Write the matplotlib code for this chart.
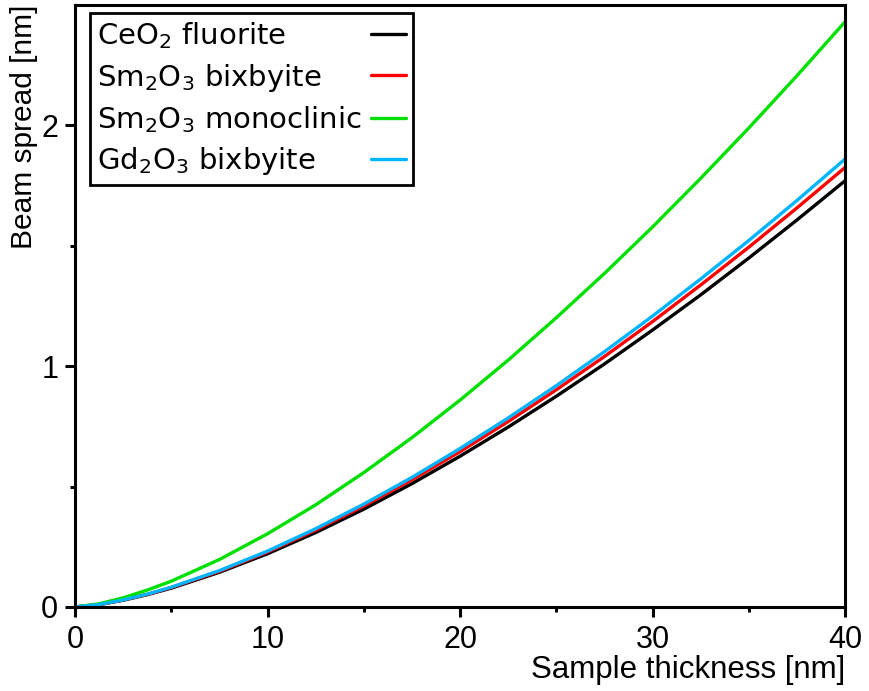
import numpy as np
import matplotlib
matplotlib.use('Agg')
import matplotlib.pyplot as plt

# sample thickness [nm]
thickness = [0, 1.25, 2.5, 3.75, 5, 7.5, 10, 12.5, 15, 17.5, 20, 22.5, 25, 27.5, 30, 32.5, 35, 37.5, 40]

# beam spread [nm]
ceo2_fluorite = [0, 0.010, 0.028, 0.051, 0.078, 0.144, 0.221, 0.309, 0.406, 0.512, 0.626, 0.747, 0.875, 1.009, 1.150, 1.296, 1.449, 1.607, 1.770]
sm2o3_bixbyite = [0, 0.010, 0.029, 0.052, 0.081, 0.148, 0.228, 0.319, 0.419, 0.528, 0.645, 0.770, 0.902, 1.040, 1.185, 1.337, 1.494, 1.657, 1.825]
sm2o3_monoclinic = [0, 0.013, 0.038, 0.070, 0.107, 0.197, 0.304, 0.424, 0.558, 0.703, 0.859, 1.025, 1.201, 1.385, 1.578, 1.780, 1.989, 2.206, 2.430]
gd2o3_bixbyite = [0, 0.010, 0.029, 0.053, 0.082, 0.151, 0.232, 0.325, 0.427, 0.538, 0.658, 0.785, 0.919, 1.060, 1.208, 1.362, 1.522, 1.688, 1.860]

labels = [r'CeO$_2$ fluorite', r'Sm$_2$O$_3$ bixbyite', r'Sm$_2$O$_3$ monoclinic', r'Gd$_2$O$_3$ bixbyite']
colors = ['#000000', '#ff0000', '#00e000', '#00b4ff']

plt.rcParams['mathtext.default'] = 'regular'
arial = ['Liberation Sans', 'DejaVu Sans']

fig = plt.figure(figsize=(8.7, 6.91), dpi=100)
ax = fig.add_axes([0.0862, 0.1216, 0.8851, 0.8712])

series = [ceo2_fluorite, sm2o3_bixbyite, sm2o3_monoclinic, gd2o3_bixbyite]
for ys, lab, col in zip(series, labels, colors):
	ax.plot(thickness, ys, color=col, lw=2.4, label=lab, solid_capstyle='round')

ax.set_xlim(0, 40)
ax.set_ylim(0, 2.5)
ax.set_xticks([0, 10, 20, 30, 40])
ax.set_xticks([5, 15, 25, 35], minor=True)
ax.set_yticks([0, 1, 2])
ax.set_yticks([0.5, 1.5], minor=True)

for s in ax.spines.values():
	s.set_linewidth(2.2)
ax.tick_params(which='major', length=7, width=2.2, direction='out', labelsize=22, pad=5)
ax.tick_params(axis='x', which='major', pad=6)
ax.tick_params(which='minor', length=3.5, width=2.2, direction='out')
for t in ax.get_xticklabels() + ax.get_yticklabels():
	t.set_family(arial)

ax.set_xlabel('Sample thickness [nm]', loc='right', fontsize=22.5, family=arial, labelpad=0)
ax.set_ylabel('Beam spread [nm]', loc='top', fontsize=21.5, family=arial, labelpad=2)

leg = ax.legend(loc='upper left', bbox_to_anchor=(0.0195, 0.9867), borderaxespad=0,
	markerfirst=False, fancybox=False, edgecolor='black', framealpha=1,
	prop={'family': 'DejaVu Sans', 'size': 21}, handlelength=1.2, handletextpad=0.3,
	borderpad=0.25, labelspacing=0.36)
leg.get_frame().set_linewidth(2)

# texts left-aligned, handles stay on the right
fig.canvas.draw()
r = fig.canvas.get_renderer()
ws = [t.get_window_extent(r).width for t in leg.get_texts()]
col = leg._legend_handle_box.get_children()[0]
for box, w in zip(col.get_children(), ws):
	box.sep += (max(ws) - w) * 72 / fig.dpi

fig.savefig('out.png', dpi=100)
